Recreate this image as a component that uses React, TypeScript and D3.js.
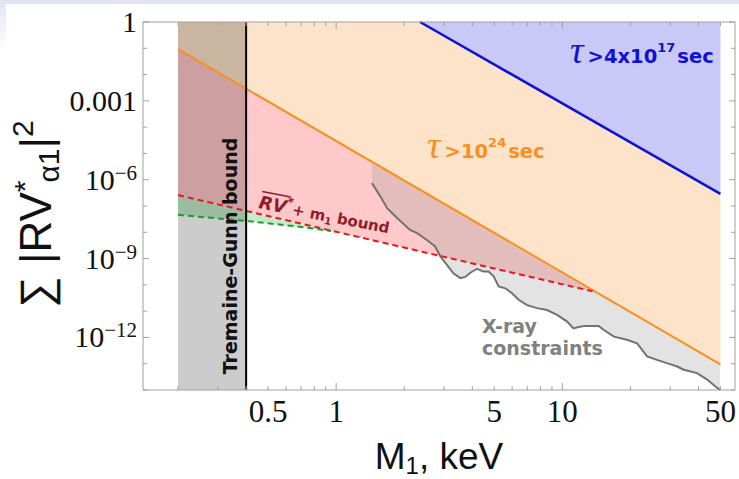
import React from "react";
import * as d3 from "d3";

const W = 739;
const H = 479;

// axis ticks
const xTicks = [0.2, 0.3, 0.4, 0.5, 0.6, 0.7, 0.8, 0.9, 1, 2, 3, 4, 5, 6, 7, 8, 9, 10, 20, 30, 40, 50];
const xMajor = [1, 10];
const xLabels = [0.5, 1, 5, 10, 50];
const yTicks = [1e-14, 1e-13, 1e-12, 1e-11, 1e-10, 1e-9, 1e-8, 1e-7, 1e-6, 1e-5, 1e-4, 1e-3, 1e-2, 1e-1, 1];
const yLabelValues = [1, 1e-3, 1e-6, 1e-9, 1e-12];
const yLabelBase = ["1", "0.001", "10", "10", "10"];
const yLabelExp = ["", "", "\u22126", "\u22129", "\u221212"];

// Tremaine-Gunn bound (keV)
const tgMass = [0.2, 0.4];

// lifetime lines
const orangeMass = [0.2, 50];
const orangeMix = [0.093, 9.5e-14];
const blueMass = [2.35, 50];
const blueMix = [1, 2.9e-7];

// RV* + m1 bound (red dashed) and green dashed line
const redMass = [0.2, 13.6];
const redMix = [2.6e-7, 5.7e-11];
const greenMass = [0.2, 0.4, 0.7, 0.95];
const greenMix = [4.6e-8, 2.7e-8, 1.6e-8, 1.12e-8];

// X-ray constraint curve
const xrayMass = [1.44, 1.57, 1.68, 1.86, 2.12, 2.28, 2.52, 2.74, 2.89, 3.09, 3.3, 3.54, 3.72, 3.92, 4.19, 4.49, 4.72, 4.97, 5.23, 5.6, 5.99, 6.41, 6.98, 7.73, 8.56, 9.48, 10.5, 11.2, 11.8, 12.6, 14.5, 15.2, 16.9, 19.3, 21.4, 23.7, 26.2, 29.0, 32.2, 34.4, 39.4, 43.7, 48.4, 50];
const xrayMix = [7.4e-7, 2.3e-7, 8.3e-8, 3.5e-8, 1.23e-8, 9.3e-9, 5.1e-9, 2.9e-9, 1.2e-9, 5.8e-10, 2.75e-10, 1.8e-10, 2.0e-10, 2.9e-10, 4.1e-10, 3.2e-10, 3.2e-10, 2.1e-10, 8.7e-11, 7.4e-11, 4.8e-11, 2.7e-11, 1.7e-11, 1.3e-11, 1.1e-11, 7.2e-12, 4.0e-12, 2.2e-12, 2.5e-12, 2.75e-12, 2.75e-12, 1.95e-12, 1.07e-12, 8.1e-13, 6.0e-13, 1.9e-13, 1.4e-13, 1.05e-13, 7.8e-14, 5.9e-14, 4.4e-14, 2.5e-14, 1.2e-14, 1e-14];

const SANS = "'DejaVu Sans', Verdana, sans-serif";

export default function App() {
  const left = 143, right = 735, top = 22, bottom = 390;
  const x = d3.scaleLog().domain([0.14, 58]).range([left, right]);
  const y = d3.scaleLog().domain([1e-14, 1]).range([bottom, top]);

  const pts = (ms: number[], vs: number[]) => ms.map((m, i) => [x(m), y(vs[i])] as [number, number]);
  const line = d3.line();
  const poly = (p: [number, number][]) => line(p) + "Z";

  const orangePts = pts(orangeMass, orangeMix);
  const bluePts = pts(blueMass, blueMix);
  const redPts = pts(redMass, redMix);
  const greenPts = pts(greenMass, greenMix);
  const xrayPts = pts(xrayMass, xrayMix);
  const yMax = yTicks[yTicks.length - 1];
  const yMin = yTicks[0];
  const m0 = orangeMass[0], m1 = orangeMass[orangeMass.length - 1];

  const blueFill = poly([...bluePts, [x(m1), y(yMax)]]);
  const orangeFill = poly([...orangePts, bluePts[1], bluePts[0], [x(m0), y(yMax)]]);
  const pinkFill = poly([orangePts[0], redPts[1], redPts[0]]);
  const greenFill = poly([...greenPts, redPts[0]]);
  const belowOrange = poly([...orangePts, [x(m1), y(yMin)], [x(m0), y(yMin)]]);
  const xrayFill = poly([...xrayPts, [x(m1), y(yMax)], [x(xrayMass[0]), y(yMax)]]);

  return (
    <svg width={W} height={H} style={{ position: "absolute", left: 0, top: 0, background: "#fff" }}>
      <defs>
        <clipPath id="belowOrange"><path d={belowOrange} /></clipPath>
        <linearGradient id="edge" x1="0" y1="0" x2="0" y2="1">
          <stop offset="0" stopColor="#e2e4f3" />
          <stop offset="1" stopColor="#ffffff" />
        </linearGradient>
      </defs>
      <rect x={0} y={0} width={W} height={4} fill="#e2e4f3" />
      <rect x={0} y={0} width={6} height={50} fill="url(#edge)" />

      <path d={blueFill} fill="#c9c9f8" />
      <path d={orangeFill} fill="#fde3c9" />
      <path d={pinkFill} fill="#ffc9c9" />
      <path d={greenFill} fill="#c2ecc8" />
      <path d={xrayFill} fill="#9a9a9a" fillOpacity={0.28} clipPath="url(#belowOrange)" />
      <rect x={x(tgMass[0])} y={top} width={x(tgMass[1]) - x(tgMass[0])} height={bottom - top} fill="#000" fillOpacity={0.2} />

      <path d={line(orangePts)!} stroke="#f7901e" strokeWidth={2} fill="none" />
      <path d={line(bluePts)!} stroke="#1111d4" strokeWidth={2.5} fill="none" />
      <path d={line(redPts)!} stroke="#e8161e" strokeWidth={2} strokeDasharray="6 4" fill="none" />
      <path d={line(greenPts)!} stroke="#1f9a2a" strokeWidth={2} strokeDasharray="6 4" fill="none" />
      <path d={line(xrayPts)!} stroke="#727272" strokeWidth={2} fill="none" />
      <line x1={x(tgMass[1])} x2={x(tgMass[1])} y1={top} y2={bottom} stroke="#000" strokeWidth={2} />

      {/* frame */}
      <rect x={left} y={top} width={right - left} height={bottom - top} fill="none" stroke="#a0a0a0" strokeWidth={1} />
      {xTicks.map((t) => {
        const len = xMajor.includes(t) ? 7 : 4;
        return (
          <g key={"xt" + t} stroke="#a0a0a0">
            <line x1={x(t)} x2={x(t)} y1={bottom} y2={bottom - len} />
            <line x1={x(t)} x2={x(t)} y1={top} y2={top + len} />
          </g>
        );
      })}
      {yTicks.map((t) => {
        const len = yLabelValues.includes(t) ? 6 : 4;
        return (
          <g key={"yt" + t} stroke="#a0a0a0">
            <line x1={left} x2={left + len} y1={y(t)} y2={y(t)} />
            <line x1={right} x2={right - len} y1={y(t)} y2={y(t)} />
          </g>
        );
      })}

      {xLabels.map((t) => (
        <text key={"xl" + t} x={x(t)} y={422} textAnchor="middle" fontFamily="'Liberation Serif', serif" fontSize={31} fill="#111">
          {t}
        </text>
      ))}
      {yLabelValues.map((t, i) => (
        <text key={"yl" + t} x={137} y={y(t) + 10} textAnchor="end" fontFamily="'Liberation Serif', serif" fontSize={30} fill="#111">
          {yLabelBase[i]}
          {yLabelExp[i] && <tspan fontSize={21} dy={-10}>{yLabelExp[i]}</tspan>}
        </text>
      ))}

      <text x={(left + right) / 2} y={469} textAnchor="middle" fontFamily="'Liberation Sans', Arial, sans-serif" fontSize={37} fill="#111">
        M<tspan fontSize={24} dy={5}>1</tspan><tspan dy={-5}>, keV</tspan>
      </text>
      <text transform={`translate(51,${(top + bottom) / 2 + 8}) rotate(-90)`} textAnchor="middle" fontFamily="'Liberation Sans', Arial, sans-serif" fontSize={44} fill="#111">
        {"\u2211 |RV"}<tspan fontSize={30} dy={-16}>*</tspan><tspan fontSize={30} dy={24} dx={-2}>{"\u03b11"}</tspan><tspan dy={-8}>|</tspan><tspan fontSize={30} dy={-18}>2</tspan>
      </text>

      {/* annotations */}
      <text x={570} y={63} fill="#1111d4" fontFamily={SANS} fontWeight="bold" fontSize={19.5}>
        <tspan fontFamily="'Liberation Serif', serif" fontStyle="italic" fontWeight="normal" fontSize={38}>{"\u03c4"}</tspan>
        <tspan dx={4}>{">4x10"}</tspan><tspan fontSize={13} dy={-11}>17</tspan><tspan dx={2} dy={11}>sec</tspan>
      </text>
      <text x={427} y={158} fill="#f7901e" fontFamily={SANS} fontWeight="bold" fontSize={19.5}>
        <tspan fontFamily="'Liberation Serif', serif" fontStyle="italic" fontWeight="normal" fontSize={38}>{"\u03c4"}</tspan>
        <tspan dx={4}>{">10"}</tspan><tspan fontSize={13} dy={-11}>24</tspan><tspan dx={2} dy={11}>sec</tspan>
      </text>
      <g transform="translate(258,208) rotate(11)" fill="#8e1c2a" fontFamily={SANS} fontWeight="bold">
        <line x1={1} x2={30} y1={-17} y2={-17} stroke="#8e1c2a" strokeWidth={1.5} />
        <text x={0} y={0}>
          <tspan fontStyle="italic" fontSize={18}>RV</tspan><tspan fontSize={12} dy={-8}>*</tspan>
          <tspan fontSize={15} dy={8}>{"+ m"}</tspan><tspan fontSize={10} dy={3}>1</tspan><tspan fontSize={15} dy={-3}>{" bound"}</tspan>
        </text>
      </g>
      <text transform="translate(237,256) rotate(-90)" textAnchor="middle" fontFamily={SANS} fontWeight="bold" fontSize={19} fill="#111">
        Tremaine-Gunn bound
      </text>
      <text fill="#808080" fontFamily={SANS} fontWeight="bold" fontSize={19}>
        <tspan x={482} y={333}>X-ray</tspan>
        <tspan x={482} y={355}>constraints</tspan>
      </text>
    </svg>
  );
}
